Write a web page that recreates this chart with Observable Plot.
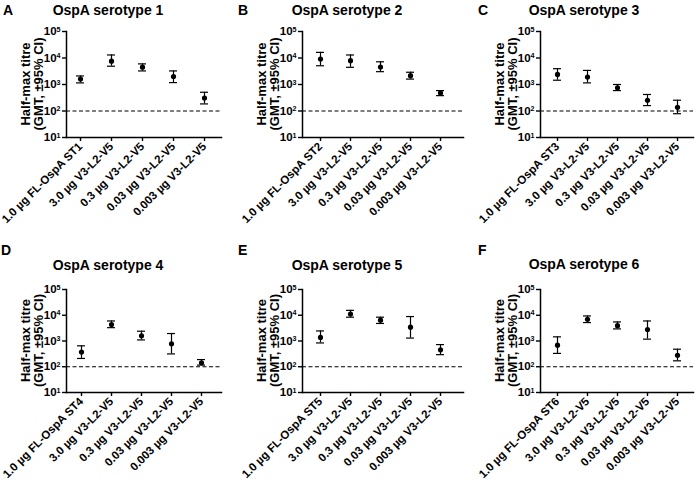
<!DOCTYPE html>
<html><head><meta charset="utf-8">
<script src="https://cdn.jsdelivr.net/npm/d3@7"></script>
<script src="https://cdn.jsdelivr.net/npm/@observablehq/plot@0.6"></script>
<style>
body{margin:0;background:#fff;}
#fig{position:relative;width:696px;height:484px;overflow:hidden;font-family:"Liberation Sans",Arial,sans-serif;font-weight:bold;color:#000;}
.panel{position:absolute;}
.title{position:absolute;font-size:14px;transform:translate(-50%,-50%);white-space:nowrap;}
.letter{position:absolute;font-size:14px;transform:translateY(-50%);}
</style></head><body><div id="fig"></div>
<script>
// ---- data ----
const panelLetters = ["A", "B", "C", "D", "E", "F"];
const panelTitles = ["OspA serotype 1", "OspA serotype 2", "OspA serotype 3", "OspA serotype 4", "OspA serotype 5", "OspA serotype 6"];
const referenceLabels = ["1.0 µg FL-OspA ST1", "1.0 µg FL-OspA ST2", "1.0 µg FL-OspA ST3", "1.0 µg FL-OspA ST4", "1.0 µg FL-OspA ST5", "1.0 µg FL-OspA ST6"];
const doseLabels = ["3.0 µg V3-L2-V5", "0.3 µg V3-L2-V5", "0.03 µg V3-L2-V5", "0.003 µg V3-L2-V5"];
const yTickValues = [10, 100, 1000, 10000, 100000];
const cutoff = [100];
const yLabelLines = ["Half-max titre", "(GMT, ±95% CI)"];

const gmtST1 = [1600, 7600, 4500, 2000, 310];
const lowST1 = [1150, 4900, 3250, 1180, 185];
const highST1 = [2100, 13000, 6000, 3250, 510];
const gmtST2 = [9100, 7900, 4550, 2150, 480];
const lowST2 = [5100, 4450, 3050, 1600, 380];
const highST2 = [16300, 13000, 7200, 2900, 590];
const gmtST3 = [2400, 1900, 750, 255, 138];
const lowST3 = [1450, 1150, 590, 160, 79];
const highST3 = [3950, 3400, 1000, 420, 255];
const gmtST4 = [370, 4350, 1600, 780, 143];
const lowST4 = [210, 3300, 1100, 315, 116];
const highST4 = [650, 6000, 2400, 1950, 190];
const gmtST5 = [1380, 11200, 6450, 3450, 455];
const lowST5 = [840, 8400, 4800, 1300, 295];
const highST5 = [2460, 15500, 8400, 8900, 725];
const gmtST6 = [690, 7000, 3950, 2800, 280];
const lowST6 = [330, 5200, 2950, 1180, 170];
const highST6 = [1450, 9400, 5500, 6000, 480];

const gmtAll = [gmtST1, gmtST2, gmtST3, gmtST4, gmtST5, gmtST6];
const lowAll = [lowST1, lowST2, lowST3, lowST4, lowST5, lowST6];
const highAll = [highST1, highST2, highST3, highST4, highST5, highST6];

// ---- layout ----
const layout = [
  {left: 0,   top: 0,   h: 240, mb: 103, ml: 66, mr: 11, il: 14, ir: 17, tx: 108, ty: 10, lx: 3,   ly: 10},
  {left: 232, top: 0,   h: 240, mb: 103, ml: 70, mr: 1,  il: 16, ir: 22, tx: 347, ty: 10, lx: 238, ly: 10},
  {left: 464, top: 0,   h: 240, mb: 103, ml: 76, mr: 3,  il: 16, ir: 15, tx: 584, ty: 10, lx: 478, ly: 10},
  {left: 0,   top: 258, h: 226, mb: 92,  ml: 66, mr: 11, il: 13, ir: 19, tx: 108, ty: 265, lx: 1,  ly: 250},
  {left: 232, top: 258, h: 226, mb: 92,  ml: 70, mr: 1,  il: 16, ir: 22, tx: 347, ty: 265, lx: 238, ly: 250},
  {left: 464, top: 258, h: 226, mb: 92,  ml: 76, mr: 3,  il: 16, ir: 15, tx: 584, ty: 264, lx: 478, ly: 250}
];

const fig = document.getElementById("fig");
const SVGNS = "http://www.w3.org/2000/svg";

panelTitles.forEach((title, i) => {
  const L = layout[i];
  const cats = [referenceLabels[i], ...doseLabels];
  const rows = cats.map((c, j) => ({cat: c, gmt: gmtAll[i][j], lo: lowAll[i][j], hi: highAll[i][j]}));
  const marginTop = 31;
  const chart = Plot.plot({
    width: 232, height: L.h,
    marginLeft: L.ml, marginRight: L.mr, marginTop, marginBottom: L.mb,
    style: {fontFamily: '"Liberation Sans", Arial, sans-serif', fontWeight: "bold", color: "#000", background: "transparent", overflow: "visible"},
    x: {type: "point", domain: cats, padding: 0, insetLeft: L.il, insetRight: L.ir, label: null},
    y: {type: "log", domain: [10, 100000], label: null},
    marks: [
      Plot.ruleY(cutoff, {stroke: "#000", strokeWidth: 1.2, strokeDasharray: "4,2.5"}),
      Plot.frame({anchor: "left", stroke: "#000", strokeWidth: 1.5}),
      Plot.frame({anchor: "bottom", stroke: "#000", strokeWidth: 1.5}),
      Plot.axisY({ticks: yTickValues, tickFormat: d => "10^" + Math.round(Math.log10(d)), tickSize: 4, tickPadding: 2, fontSize: 11.5, strokeWidth: 1.4, label: null}),
      Plot.axisX({tickRotate: -45, tickSize: 4, tickPadding: 3, fontSize: 11.5, strokeWidth: 1.4, label: null}),
      Plot.ruleX(rows, {x: "cat", y1: "lo", y2: "hi", stroke: "#000", strokeWidth: 1.2}),
      Plot.ruleY(rows, {x1: "cat", x2: "cat", y: "hi", insetLeft: -4, insetRight: -4, stroke: "#000", strokeWidth: 1.2}),
      Plot.ruleY(rows, {x1: "cat", x2: "cat", y: "lo", insetLeft: -4, insetRight: -4, stroke: "#000", strokeWidth: 1.2}),
      Plot.dot(rows, {x: "cat", y: "gmt", r: 2.6, fill: "#000", stroke: "none"})
    ]
  });
  // superscript exponents on y tick labels
  chart.querySelectorAll('g[aria-label="y-axis tick label"] text').forEach(t => {
    const m = /^10\^(\d+)$/.exec(t.textContent.trim());
    if (!m) return;
    t.textContent = "10";
    const ts = document.createElementNS(SVGNS, "tspan");
    ts.setAttribute("dy", "-0.5em");
    ts.setAttribute("font-size", "0.62em");
    ts.textContent = m[1];
    t.appendChild(ts);
  });

  const wrap = document.createElement("div");
  wrap.className = "panel";
  wrap.style.left = L.left + "px";
  wrap.style.top = L.top + "px";
  wrap.appendChild(chart);
  fig.appendChild(wrap);

  // rotated two-line y-axis label, one <text> per line, start-anchored and centred by measurement
  const cy = marginTop + (L.h - marginTop - L.mb) / 2;
  const baselines = [L.ml - 36.5, L.ml - 23.5];
  yLabelLines.forEach((line, k) => {
    const t = document.createElementNS(SVGNS, "text");
    t.setAttribute("font-size", "13");
    t.setAttribute("font-weight", "bold");
    t.setAttribute("fill", "#000");
    t.setAttribute("text-anchor", "start");
    t.textContent = line;
    chart.appendChild(t);
    let len = 0;
    try { len = t.getComputedTextLength(); } catch (e) { len = 0; }
    if (!len) len = line.length * 13 * 0.53;
    t.setAttribute("transform", `translate(${baselines[k]},${cy + len / 2}) rotate(-90)`);
  });

  const tt = document.createElement("div");
  tt.className = "title";
  tt.style.left = L.tx + "px";
  tt.style.top = L.ty + "px";
  tt.textContent = title;
  fig.appendChild(tt);

  const lt = document.createElement("div");
  lt.className = "letter";
  lt.style.left = L.lx + "px";
  lt.style.top = L.ly + "px";
  lt.textContent = panelLetters[i];
  fig.appendChild(lt);
});
</script></body></html>
